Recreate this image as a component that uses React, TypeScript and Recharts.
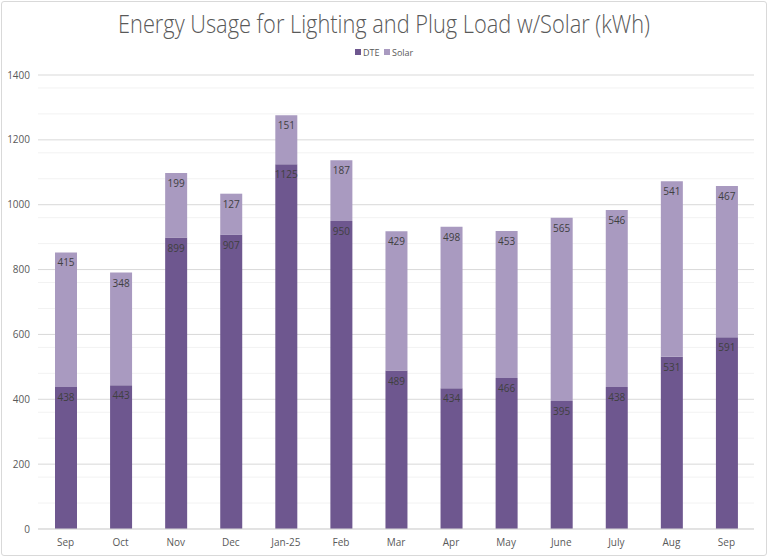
import React from 'react';
import { BarChart, Bar, XAxis, YAxis, CartesianGrid, LabelList } from 'recharts';

const months = ['Sep', 'Oct', 'Nov', 'Dec', 'Jan-25', 'Feb', 'Mar', 'Apr', 'May', 'June', 'July', 'Aug', 'Sep'];
const dteValues = [438, 443, 899, 907, 1125, 950, 489, 434, 466, 395, 438, 531, 591];
const solarValues = [415, 348, 199, 127, 151, 187, 429, 498, 453, 565, 546, 541, 467];
const yTicks = [0, 200, 400, 600, 800, 1000, 1200, 1400];
const minorStep = 40;

const DTE_COLOR = '#6e578f';
const SOLAR_COLOR = '#a99ac0';
const FONT = '"Open Sans", "Noto Sans", sans-serif';

const data = months.map((m, i) => ({ name: m, DTE: dteValues[i], Solar: solarValues[i] }));
const minorLines: number[] = [];
for (let v = 0; v <= yTicks[yTicks.length - 1]; v += minorStep) {
  if (v % 200 !== 0) minorLines.push(v);
}

export default function App() {
  return (
    <div style={{ position: 'absolute', left: 0, top: 0, width: 768, height: 557, background: '#fff', fontFamily: FONT }}>
      <div style={{ position: 'absolute', left: 1, top: 1, width: 764, height: 553, border: '1px solid #d9d9d9', borderRadius: 3 }} />
      <svg width={768} height={70} style={{ position: 'absolute', left: 0, top: 0 }}>
        <text
          x={384}
          y={33}
          textAnchor="middle"
          fontSize={26}
          fontWeight={300}
          fill="#595959"
          textLength={532}
          lengthAdjust="spacingAndGlyphs"
          style={{ fontFamily: '"Liberation Sans Narrow", "Open Sans", sans-serif' }}
        >
          Energy Usage for Lighting and Plug Load w/Solar (kWh)
        </text>
        <rect x={355} y={49} width={6} height={6} fill={DTE_COLOR} />
        <text x={363} y={56} fontSize={9} fill="#595959" style={{ fontFamily: FONT }}>DTE</text>
        <rect x={384} y={49} width={6} height={6} fill={SOLAR_COLOR} />
        <text x={392} y={56} fontSize={9} fill="#595959" style={{ fontFamily: FONT }}>Solar</text>
      </svg>
      <div style={{ position: 'absolute', left: 0, top: 0 }}>
        <BarChart width={768} height={557} data={data} margin={{ top: 75, right: 14, bottom: 0, left: 0 }} barSize={22}>
          <CartesianGrid vertical={false} horizontalValues={minorLines} stroke="#f2f2f2" />
          <CartesianGrid vertical={false} stroke="#d9d9d9" />
          <XAxis
            dataKey="name"
            height={28}
            tickLine={false}
            axisLine={{ stroke: '#d9d9d9' }}
            tick={{ fill: '#595959', fontSize: 10, fontFamily: FONT, dy: 2 }}
            interval={0}
          />
          <YAxis
            width={38}
            domain={[0, 1400]}
            ticks={yTicks}
            tickLine={false}
            axisLine={false}
            tick={{ fill: '#595959', fontSize: 10, fontFamily: FONT }}
          />
          <Bar dataKey="DTE" stackId="a" fill={DTE_COLOR} isAnimationActive={false}>
            <LabelList dataKey="DTE" position="insideTop" offset={7} fill="#404040" fontSize={10} fontFamily={FONT} />
          </Bar>
          <Bar dataKey="Solar" stackId="a" fill={SOLAR_COLOR} isAnimationActive={false}>
            <LabelList dataKey="Solar" position="insideTop" offset={7} fill="#404040" fontSize={10} fontFamily={FONT} />
          </Bar>
        </BarChart>
      </div>
    </div>
  );
}
